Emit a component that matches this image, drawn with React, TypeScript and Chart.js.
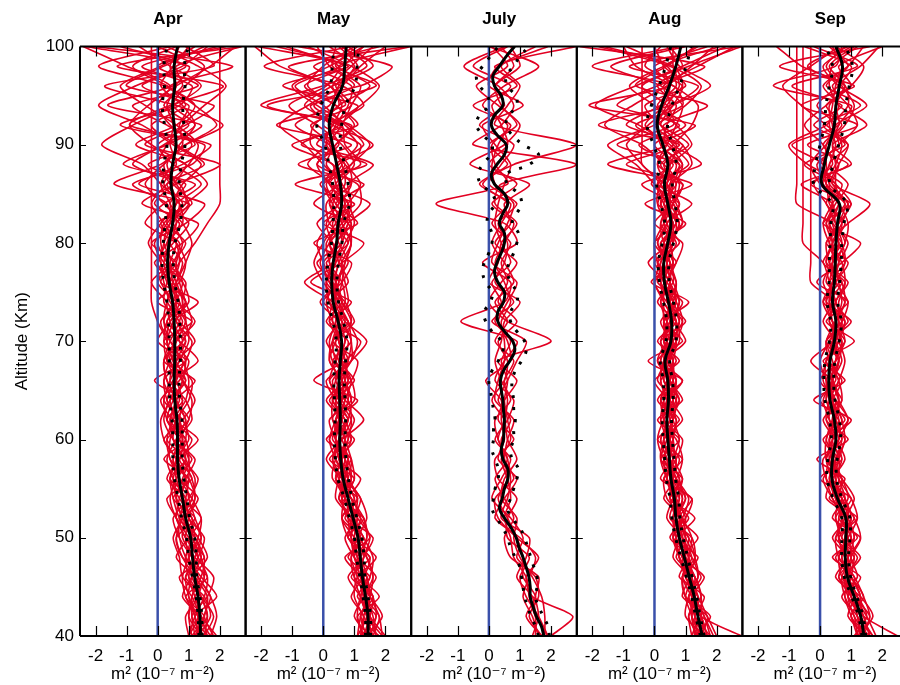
import React, { useEffect, useRef } from 'react';
import { Chart, registerables } from 'chart.js';

Chart.register(...registerables);

// ---------- axes / labels ----------
const MONTHS = ['Apr', 'May', 'July', 'Aug', 'Sep'];
const X_TICKS = [-2, -1, 0, 1, 2];
const Y_TICKS = [40, 50, 60, 70, 80, 90, 100];
const X_MIN = -2.5;
const X_MAX = 2.83;
const Y_TITLE = 'Altitude (Km)';
const X_TITLE = 'm\u00B2 (10\u207B\u2077 m\u207B\u00B2)';

const ALT_2KM = [40, 42, 44, 46, 48, 50, 52, 54, 56, 58, 60, 62, 64, 66, 68, 70, 72, 74, 76, 78, 80, 82, 84, 86, 88, 90, 92, 94, 96, 98, 100];
const ALT_1KM = [40, 41, 42, 43, 44, 45, 46, 47, 48, 49, 50, 51, 52, 53, 54, 55, 56, 57, 58, 59, 60, 61, 62, 63, 64, 65, 66, 67, 68, 69, 70, 71, 72, 73, 74, 75, 76, 77, 78, 79, 80, 81, 82, 83, 84, 85, 86, 87, 88, 89, 90, 91, 92, 93, 94, 95, 96, 97, 98, 99, 100];

// ---------- April ----------
const APR_MEAN = [1.38, 1.36, 1.3, 1.19, 1.12, 1.06, 0.9, 0.8, 0.69, 0.64, 0.64, 0.62, 0.55, 0.53, 0.55, 0.55, 0.53, 0.48, 0.37, 0.32, 0.37, 0.48, 0.53, 0.43, 0.48, 0.59, 0.53, 0.48, 0.55, 0.53, 0.64];
const APR_LO = [1.33, 1.3, 1.24, 1.12, 1.0, 0.93, 0.77, 0.66, 0.54, 0.49, 0.49, 0.46, 0.39, 0.37, 0.37, 0.37, 0.35, 0.3, 0.19, 0.14, 0.18, 0.24, 0.28, 0.17, 0.2, 0.3, 0.22, 0.15, 0.22, 0.2, 0.3];
const APR_HI = [1.43, 1.42, 1.36, 1.26, 1.24, 1.19, 1.03, 0.94, 0.84, 0.79, 0.79, 0.78, 0.71, 0.69, 0.73, 0.73, 0.71, 0.66, 0.55, 0.5, 0.56, 0.72, 0.78, 0.69, 0.76, 0.88, 0.84, 0.81, 0.88, 0.86, 0.98];
const APR_RED = [
  [1.6, 1.2, 1.9, 1.4, 1.0, 1.3, 0.7, 1.1, 0.4, 0.9, 0.3, 1.0, 0.6, 1.2, 0.2, 0.8, 0.5, 1.3, 0.1, 0.6, -0.2, 0.9, 1.5, -0.6, 0.8, 1.7, -0.9, 0.4, 2.1, -1.3, 2.7],
  [1.1, 1.5, 0.9, 1.6, 0.8, 0.6, 1.2, 0.5, 1.0, 0.2, 0.9, 0.3, 0.8, -0.1, 0.9, 0.2, 1.1, 0.0, 0.7, 0.9, 0.6, -0.4, 0.2, 1.2, -1.1, 0.3, 1.4, -1.6, 0.5, 1.0, -2.3],
  [1.9, 1.4, 1.1, 0.7, 1.5, 0.9, 0.6, 0.3, 1.1, 0.7, 1.3, 0.5, 0.1, 0.7, 1.0, 0.4, 0.1, 0.6, 0.5, -0.1, 0.8, 1.3, -0.5, 0.6, 2.0, -0.4, 0.9, 1.8, -1.0, 0.2, 1.5],
  [1.3, 1.7, 1.5, 0.9, 1.3, 1.5, 1.0, 0.9, 0.5, 0.3, 0.6, 1.1, 0.9, 0.4, 0.6, 1.2, 0.7, 0.3, -0.2, 0.4, 0.3, 0.6, 1.0, -1.4, 0.1, 0.9, 2.1, 0.6, -1.7, 1.8, 0.9],
  [1.0, 0.9, 1.3, 1.2, 0.6, 1.0, 1.4, 0.8, 0.9, 1.2, 0.5, 0.2, 0.4, 0.9, 0.3, 0.6, 0.9, 0.8, 0.9, 0.3, 0.1, 0.2, 0.8, 0.3, 1.5, 0.6, -0.2, 0.9, 0.4, 2.4, -2.0],
  [1.5, 1.1, 1.6, 1.8, 1.2, 0.8, 0.9, 1.3, 0.7, 0.5, 0.8, 0.7, 0.3, 0.6, 0.8, 0.0, 0.4, 0.7, 0.4, 0.0, 0.5, 1.0, 0.4, 0.9, -0.3, 1.2, 0.3, -0.8, 1.3, 0.0, 1.9],
  [1.7, 1.3, 1.0, 1.1, 1.4, 1.2, 0.8, 0.6, 0.8, 1.0, 0.9, 0.4, 0.7, 0.5, 1.3, 0.7, 0.2, 0.5, 0.6, 0.8, 0.4, 0.7, -0.1, 0.5, 0.9, -0.7, 0.6, 1.2, 0.2, -1.9, 0.4],
  [1.2, 1.6, 1.4, 1.0, 0.9, 1.1, 1.1, 0.7, 0.4, 0.6, 0.2, 0.8, 1.2, 0.8, 0.4, 0.9, 0.6, 0.2, 0.3, 0.5, 0.9, 0.3, 0.6, 1.4, 0.5, 0.0, 1.0, 0.2, 0.8, 0.6, 2.7],
  [1.4, 1.0, 1.2, 1.5, 1.1, 0.7, 0.5, 1.0, 1.3, 0.8, 0.6, 0.9, 0.5, 0.2, 0.7, 0.5, 0.8, 0.4, 0.2, 0.1, 0.2, 0.5, 0.7, 0.2, 0.6, 0.4, 0.5, 0.3, 0.6, 0.4, 0.7],
  [1.3, 1.2, 1.0, 0.9, 1.3, 1.0, 0.6, 0.4, 0.6, 0.9, 0.7, 0.3, 0.5, 0.8, 0.4, 0.3, 0.0, -0.2, -0.2, -0.2, -0.2, -0.2, -0.2, -0.2, -0.2, -0.2, -0.2, -0.2, -0.2, -0.2, -0.2],
  [1.8, 1.5, 1.7, 1.3, 1.0, 1.4, 1.2, 1.0, 0.9, 0.6, 1.0, 0.8, 0.2, 0.5, 0.9, 1.1, 0.6, 0.9, 0.4, 0.7, 1.2, 1.6, 2.0, 2.0, 2.0, 2.0, 2.0, 2.0, 2.0, 2.0, 2.0],
  [1.0, 1.3, 0.8, 1.1, 1.6, 1.3, 0.9, 1.2, 1.0, 0.4, 0.4, 0.6, 1.0, 1.1, 0.5, 0.3, 0.4, 1.0, 0.8, 0.2, -0.1, 0.4, 0.3, -0.8, 1.1, 1.5, -1.2, 0.7, 1.1, -0.5, 2.2],
  [1.5, 1.8, 1.4, 0.8, 0.7, 0.5, 0.8, 0.9, 0.3, 0.7, 1.1, 0.5, 0.6, 0.3, 0.2, 0.6, 1.2, 0.6, 0.0, 0.5, 0.7, 0.0, 1.1, 0.5, 0.2, 0.8, 0.7, 1.0, -0.5, 0.9, -1.2],
  [1.2, 1.1, 1.1, 1.3, 0.9, 1.2, 1.0, 0.6, 0.6, 1.1, 0.5, 0.6, 0.4, 0.9, 0.6, 0.9, 0.3, 0.9, 0.5, 0.4, 0.6, 0.1, 0.9, 0.7, -0.8, 0.2, 1.2, 0.5, 0.9, 1.5, 0.3],
  [1.5, 1.6, 1.4, 1.1, 1.0, 0.9, 1.0, 1.2, 1.1, 0.8, 0.5, 0.4, 0.6, 0.8, 0.9, 0.7, 0.4, 0.3, 0.5, 0.7, 0.6, 0.2, -0.2, 0.3, 1.0, 1.3, 0.6, -0.4, -1.2, 0.1, 1.2],
  [1.1, 1.0, 1.1, 1.4, 1.5, 1.2, 0.8, 0.6, 0.5, 0.7, 0.9, 0.9, 0.6, 0.3, 0.2, 0.4, 0.7, 0.8, 0.6, 0.3, 0.0, 0.3, 0.9, 1.6, 0.9, -0.2, -0.9, -0.3, 0.6, 1.7, 2.5],
  [1.7, 1.9, 1.7, 1.3, 0.9, 0.7, 0.7, 0.9, 1.0, 1.0, 0.7, 0.3, 0.2, 0.4, 0.7, 1.0, 0.9, 0.5, 0.1, 0.0, 0.3, 0.8, 0.7, 0.1, -0.5, -1.8, -0.8, 0.5, 1.4, 0.4, -0.6],
  [1.3, 1.2, 0.9, 0.8, 1.0, 1.3, 1.4, 1.1, 0.7, 0.4, 0.3, 0.5, 0.9, 1.0, 0.8, 0.4, 0.2, 0.3, 0.6, 0.9, 1.1, 0.8, 0.2, -0.4, 0.2, 0.9, 1.9, 1.2, 0.3, -0.8, 0.6],
  [1.0, 1.2, 1.5, 1.6, 1.3, 0.9, 0.6, 0.7, 0.9, 0.6, 0.2, 0.1, 0.4, 0.6, 0.5, 0.3, 0.5, 0.6, 0.4, 0.2, 0.4, 0.6, 0.5, 0.8, 1.4, 0.5, -0.5, -1.9, -0.7, 0.8, 1.6],
  [1.6, 1.4, 1.2, 1.0, 1.2, 1.4, 1.1, 0.8, 0.6, 0.5, 0.7, 1.0, 1.1, 0.8, 0.5, 0.6, 0.9, 0.7, 0.3, 0.1, -0.3, 0.1, 0.6, 0.4, 0.0, 0.3, 0.8, 1.5, 2.2, 1.3, 0.0],
  [1.2, 1.5, 1.6, 1.2, 0.8, 0.6, 0.8, 1.1, 1.2, 0.9, 0.8, 0.6, 0.3, 0.2, 0.4, 0.8, 1.1, 0.9, 0.7, 0.6, 0.8, 0.5, 0.4, 0.1, 0.5, 1.1, 0.4, 0.0, 0.4, -1.0, -2.4],
  [1.4, 1.3, 1.3, 1.5, 1.4, 1.1, 0.7, 0.5, 0.4, 0.6, 0.8, 0.7, 0.8, 0.6, 0.3, 0.2, 0.3, 0.6, 0.8, 0.5, 0.2, 0.4, 1.0, 0.6, 0.3, 0.7, 1.2, 0.8, 0.1, 0.5, 1.0],
];

// ---------- May ----------
const MAY_MEAN = [1.44, 1.44, 1.36, 1.26, 1.19, 1.12, 0.96, 0.8, 0.64, 0.56, 0.53, 0.55, 0.53, 0.51, 0.55, 0.59, 0.48, 0.32, 0.27, 0.32, 0.43, 0.48, 0.59, 0.55, 0.43, 0.3, 0.19, 0.32, 0.62, 0.69, 0.74];
const MAY_LO = [1.36, 1.36, 1.28, 1.18, 1.07, 1.0, 0.84, 0.68, 0.47, 0.39, 0.36, 0.38, 0.36, 0.34, 0.38, 0.42, 0.31, 0.15, 0.1, 0.15, 0.26, 0.31, 0.34, 0.3, 0.18, 0.05, -0.21, -0.08, 0.22, 0.29, 0.34];
const MAY_HI = [1.52, 1.52, 1.44, 1.34, 1.31, 1.24, 1.08, 0.92, 0.81, 0.73, 0.7, 0.72, 0.7, 0.68, 0.72, 0.76, 0.65, 0.49, 0.44, 0.49, 0.6, 0.65, 0.84, 0.8, 0.68, 0.55, 0.59, 0.72, 1.02, 1.09, 1.14];
const MAY_RED = [
  [1.8, 1.2, 1.6, 0.9, 1.5, 0.8, 1.3, 0.5, 1.0, 0.2, 0.9, 0.4, 1.1, -0.3, 0.7, 1.2, 0.2, 0.9, -0.4, 0.6, 1.3, 0.0, 1.0, -0.9, 1.4, -0.7, 0.6, -1.8, 1.2, 2.2, -0.8],
  [1.2, 1.7, 1.1, 1.5, 0.8, 1.3, 0.7, 1.1, 0.4, 0.9, 0.1, 0.8, 0.3, 0.9, 1.1, 0.3, 0.8, 0.0, 0.6, 0.9, -0.3, 1.1, 0.4, 1.3, -0.8, 0.9, -1.5, 0.7, 0.2, -1.1, 2.7],
  [2.0, 1.5, 1.3, 1.7, 1.1, 0.9, 1.0, 1.2, 0.7, 0.6, 0.7, 1.0, 0.6, 0.5, 0.3, 0.9, 0.6, 0.5, 0.2, 0.0, 0.6, 0.8, 1.5, 0.2, 0.5, 1.6, 0.3, -0.4, 1.7, 0.4, 1.1],
  [1.3, 1.1, 1.8, 1.2, 1.3, 1.6, 0.8, 0.6, 0.9, 0.8, 0.4, 0.2, 0.9, 0.7, 0.6, 0.4, 1.0, 0.6, 0.3, 0.5, 0.2, 0.5, 0.9, 0.8, 1.6, -0.2, 0.5, 1.1, -1.3, 0.8, -2.1],
  [1.6, 1.3, 1.0, 1.1, 1.7, 1.0, 1.2, 0.9, 0.3, 0.4, 0.8, 0.6, 0.4, 1.0, 0.5, 0.7, 0.5, -0.1, 0.5, 0.1, 0.8, 0.2, 0.1, 0.6, 0.1, 0.4, 0.9, -2.0, 0.0, 1.4, 0.6],
  [1.4, 1.9, 1.5, 1.0, 0.9, 1.2, 0.6, 1.0, 0.6, 0.1, 0.6, 1.3, 0.7, 0.2, 0.8, 0.5, 0.4, 0.8, 0.7, 0.6, 0.9, 0.6, 0.7, 0.3, -0.5, 0.1, 0.4, 0.8, 0.9, -0.3, 1.8],
  [1.1, 1.4, 1.2, 1.4, 1.0, 0.7, 1.1, 0.7, 0.8, 0.9, 0.3, 0.5, 0.5, 0.3, 0.9, 1.4, 0.7, 0.3, -0.6, 0.3, 0.4, 0.9, 0.2, 0.9, 0.8, 0.2, -0.9, 0.2, 0.5, 1.0, 0.2],
  [1.7, 1.6, 1.4, 1.3, 1.2, 1.1, 0.9, 0.4, 0.5, 0.7, 0.5, 0.7, 0.2, 0.8, 0.4, 0.6, 0.3, 0.4, 0.4, 0.8, 0.5, 0.3, 0.6, -0.1, 0.9, 1.2, 0.0, 0.5, 1.5, 0.5, 2.8],
  [1.5, 1.0, 1.3, 1.6, 1.4, 0.9, 0.8, 0.8, 1.2, 0.5, 1.0, 0.3, 0.6, 0.6, 0.2, 0.3, 0.9, 0.7, 0.1, 0.4, 0.7, 1.0, 0.8, 0.4, 0.3, -1.0, 1.1, 0.4, -0.6, 0.7, -1.5],
  [1.3, 1.5, 1.6, 1.1, 1.1, 1.4, 1.3, 0.6, 0.6, 0.3, 0.6, 0.9, 0.8, 0.4, 0.6, 0.8, 0.1, 0.6, 0.4, 0.2, 0.1, 0.6, 1.2, 1.1, -0.2, 0.5, 0.2, 1.3, 0.6, -1.9, 0.9],
  [1.9, 1.4, 1.2, 0.8, 1.3, 1.0, 0.6, 1.1, 0.8, 0.7, 0.2, 0.6, 0.1, 0.7, 0.7, 0.5, 0.6, 0.2, 0.8, 0.5, 0.3, -0.2, 0.5, 0.0, 1.2, 0.7, 0.6, -0.3, 1.0, 0.2, -0.2],
  [1.4, 1.2, 1.5, 1.4, 1.0, 1.2, 1.0, 0.9, 0.4, 0.6, 0.7, 0.4, 1.0, 0.9, 0.3, 0.2, 0.4, 0.4, 0.3, -0.2, 0.6, 0.4, 0.3, 0.7, 0.6, 0.3, -0.4, 0.9, 0.4, 1.1, 0.5],
  [1.2, 1.3, 0.9, 1.3, 1.5, 0.8, 0.9, 0.5, 0.7, 0.4, 0.5, 0.8, 0.4, 0.1, 0.9, 0.9, 0.8, 0.5, 0.6, 0.7, 0.9, 0.8, -0.3, 0.5, 0.4, 1.3, 0.7, 0.0, -0.9, 0.6, 1.3],
  [1.6, 1.8, 1.3, 1.2, 0.7, 1.5, 1.1, 0.7, 0.5, 0.8, 0.4, 0.5, 0.7, 0.6, 0.5, 0.1, 0.5, 0.2, 0.1, 0.4, 0.2, 0.7, 0.8, 0.2, 0.7, 0.0, 0.3, 0.6, 0.3, 0.9, 1.6],
  [1.5, 1.7, 1.6, 1.3, 1.1, 1.0, 1.1, 1.0, 0.7, 0.5, 0.4, 0.6, 0.8, 0.7, 0.4, 0.3, 0.5, 0.6, 0.2, -0.1, 0.2, 0.7, 0.9, 0.6, 0.0, -0.6, -1.4, -0.5, 0.6, 1.2, 2.0],
  [1.2, 1.3, 1.5, 1.6, 1.4, 1.2, 0.8, 0.6, 0.7, 0.8, 0.6, 0.3, 0.3, 0.6, 0.8, 0.9, 0.6, 0.2, 0.1, 0.3, 0.6, 0.5, 0.2, 0.4, 0.9, 1.5, 0.8, -0.2, -1.0, 0.2, 1.3],
  [1.7, 1.5, 1.2, 1.0, 1.2, 1.4, 1.3, 0.9, 0.5, 0.3, 0.5, 0.8, 0.9, 0.6, 0.2, 0.4, 0.7, 0.5, 0.0, -0.3, 0.0, 0.4, 0.8, 1.2, 0.7, 0.1, 0.3, 1.2, 1.8, 0.9, -0.5],
  [1.3, 1.1, 1.2, 1.5, 1.6, 1.3, 1.0, 0.8, 0.9, 0.7, 0.4, 0.4, 0.6, 0.8, 0.7, 0.5, 0.2, 0.3, 0.5, 0.6, 0.3, 0.1, 0.5, 0.9, 0.3, -0.4, -0.3, 0.5, 0.2, -1.4, -2.2],
  [1.9, 1.8, 1.5, 1.2, 1.0, 0.9, 1.0, 1.1, 0.8, 0.4, 0.2, 0.4, 0.7, 0.9, 0.6, 0.7, 0.9, 0.6, 0.4, 0.5, 0.8, 0.9, 0.6, 0.2, -0.2, 0.4, 1.0, 0.4, -0.5, 0.0, 1.0],
  [1.4, 1.5, 1.3, 1.1, 0.9, 1.1, 1.4, 1.2, 0.8, 0.6, 0.8, 0.9, 0.5, 0.2, 0.4, 0.6, 0.3, 0.1, 0.4, 0.7, 0.9, 0.6, 0.3, 0.0, 0.5, 1.1, 0.5, -0.6, 0.3, 1.6, 0.8],
  [1.6, 1.4, 1.5, 1.4, 1.2, 0.8, 0.6, 0.7, 1.0, 0.9, 0.7, 0.5, 0.4, 0.5, 0.9, 1.1, 0.8, 0.4, 0.3, 0.0, -0.2, 0.2, 0.7, 0.5, 1.0, 0.6, -0.2, -1.1, 0.1, 0.5, -1.2],
  [1.1, 1.2, 1.4, 1.2, 1.3, 1.5, 1.2, 0.7, 0.4, 0.6, 0.9, 0.7, 0.3, 0.4, 0.7, 0.5, 0.4, 0.7, 0.6, 0.2, 0.4, 0.8, 0.4, 0.1, 0.6, 0.2, 0.6, 0.9, 1.2, 0.3, 0.4],
];

// ---------- July ----------
const JUL_MEAN = [1.77, 1.69, 1.53, 1.42, 1.33, 1.33, 1.29, 1.2, 1.1, 0.97, 0.88, 0.72, 0.5, 0.34, 0.43, 0.5, 0.61, 0.61, 0.45, 0.4, 0.47, 0.48, 0.5, 0.47, 0.45, 0.4, 0.37, 0.47, 0.67, 0.83, 0.77, 0.5, 0.29, 0.29, 0.47, 0.5, 0.29, 0.18, 0.26, 0.4, 0.5, 0.5, 0.34, 0.45, 0.61, 0.5, 0.18, 0.08, 0.26, 0.5, 0.56, 0.26, 0.08, 0.18, 0.45, 0.4, 0.18, 0.13, 0.34, 0.56, 0.83];
const JUL_LO = [1.6, 1.5, 1.35, 1.25, 1.15, 1.1, 1.05, 1.0, 0.85, 0.7, 0.6, 0.45, 0.25, 0.1, 0.15, 0.2, 0.3, 0.3, 0.2, 0.1, 0.15, 0.15, 0.2, 0.15, 0.1, 0.05, 0.0, 0.1, 0.3, 0.45, 0.4, 0.1, -0.1, -0.15, 0.05, 0.1, -0.1, -0.2, -0.15, 0.0, 0.1, 0.1, -0.05, 0.0, 0.2, 0.1, -0.25, -0.35, -0.2, 0.05, 0.1, -0.2, -0.4, -0.3, 0.0, -0.05, -0.3, -0.4, -0.2, 0.05, 0.3];
const JUL_HI = [1.95, 1.9, 1.75, 1.6, 1.5, 1.55, 1.55, 1.45, 1.35, 1.25, 1.15, 1.0, 0.75, 0.6, 0.7, 0.8, 0.9, 0.95, 0.75, 0.7, 0.8, 0.8, 0.85, 0.8, 0.8, 0.75, 0.75, 0.85, 1.05, 1.2, 1.15, 0.9, 0.7, 0.7, 0.9, 0.9, 0.7, 0.6, 0.65, 0.8, 0.9, 0.95, 0.75, 0.9, 1.05, 0.95, 0.6, 0.55, 1.3, 1.6, 1.1, 0.75, 0.55, 0.65, 0.9, 0.85, 0.6, 0.55, 0.8, 1.0, 1.3];
const JUL_RED = [
  [2.0, 2.7, 1.4, 1.2, 1.6, 0.9, 0.3, 0.2, 0.8, 0.5, 0.4, 0.7, 0.3, 0.6, 0.9, 1.2, 0.1, 0.8, 0.2, 0.5, 0.6, 0.3, 0.9, 0.0, 0.4, 0.8, -0.3, 0.5, 0.2, 1.0, 0.7],
  [1.7, 1.3, 1.6, 1.5, 0.9, 1.1, 0.7, 0.1, 0.4, 0.7, 0.2, 0.6, 0.8, 0.2, 0.5, 0.9, -0.9, 0.5, 0.7, -0.2, 0.9, 0.5, -1.7, 0.6, 0.2, 0.1, 0.7, -0.5, 0.9, 0.2, 2.8],
  [1.9, 1.6, 1.2, 1.0, 1.3, 0.6, 0.6, 0.9, 0.3, 0.2, 0.8, 0.3, 0.5, 0.9, 0.3, 2.0, 0.6, 0.0, 0.4, 0.9, 0.2, 0.7, 0.5, 1.3, -0.6, 0.5, 1.0, 0.3, -0.4, 0.6, 0.1],
  [1.5, 1.5, 1.4, 0.9, 1.2, 1.3, 0.4, 0.6, 0.7, 0.6, 0.3, 0.2, 0.7, 0.4, 0.2, 0.4, 0.5, 1.0, 0.0, 0.3, 0.4, 0.9, 0.2, 0.4, 2.8, -0.5, 0.4, 0.8, 0.3, -0.8, 0.5],
  [1.8, 1.8, 1.7, 1.4, 1.0, 0.8, 0.9, 0.4, 0.5, 0.9, 0.6, 0.5, 0.1, 0.5, 0.6, 0.3, 0.9, 0.3, 0.6, 0.4, 0.7, 0.1, 0.6, -0.2, 0.8, 2.8, 0.2, 0.6, 1.0, 0.4, 1.5],
  [1.6, 1.4, 1.1, 1.3, 1.5, 1.0, 0.2, 0.5, 0.9, 0.3, 0.5, 0.4, 0.4, -0.1, 0.7, 0.6, 0.3, 0.6, 0.9, 0.1, 0.3, 0.6, 0.8, 0.2, 0.1, 0.3, 0.6, -0.2, 0.5, 1.6, 0.0],
  [1.9, 1.5, 1.3, 1.2, 0.8, 0.7, 0.5, 0.7, 0.6, 0.4, 0.7, 0.6, 0.5, 0.6, 0.4, 0.7, 0.2, 0.4, 0.1, 0.7, 0.4, 0.2, 0.3, 0.5, 0.7, 0.2, -0.2, 1.1, 0.0, 0.3, 1.9],
  [1.7, 1.2, 1.5, 1.1, 1.1, 0.9, 0.6, 0.3, 0.6, 0.5, 0.6, 0.8, 0.2, 0.3, 0.5, 0.5, 0.4, 0.7, 0.5, 0.2, 0.5, 0.8, 0.1, 0.9, 0.0, 0.6, 0.4, 0.1, 0.7, -0.5, 0.6],
  [1.4, 1.6, 1.5, 1.6, 0.7, 0.5, 0.8, 0.5, 0.2, 0.6, 0.3, 0.5, 0.6, 0.5, 0.8, 0.2, 0.6, 0.2, 0.8, 0.5, 0.1, 0.4, 0.7, -0.3, 0.6, 0.0, 0.9, 0.4, 0.2, 0.8, 0.4],
];

// ---------- August ----------
const AUG_MEAN = [1.54, 1.4, 1.28, 1.12, 0.96, 0.8, 0.69, 0.64, 0.53, 0.48, 0.43, 0.4, 0.45, 0.43, 0.34, 0.53, 0.55, 0.45, 0.32, 0.3, 0.43, 0.53, 0.43, 0.32, 0.43, 0.27, 0.09, 0.23, 0.48, 0.69, 0.85];
const AUG_LO = [1.48, 1.33, 1.2, 1.03, 0.85, 0.68, 0.56, 0.5, 0.38, 0.33, 0.28, 0.25, 0.3, 0.28, 0.19, 0.37, 0.39, 0.29, 0.16, 0.13, 0.25, 0.33, 0.2, 0.07, 0.16, -0.03, -0.24, -0.1, 0.15, 0.36, 0.52];
const AUG_HI = [1.6, 1.47, 1.36, 1.21, 1.07, 0.92, 0.82, 0.78, 0.68, 0.63, 0.58, 0.55, 0.6, 0.58, 0.49, 0.69, 0.71, 0.61, 0.48, 0.47, 0.61, 0.73, 0.66, 0.57, 0.7, 0.57, 0.42, 0.56, 0.81, 1.02, 1.18];
const AUG_RED = [
  [2.8, 1.5, 1.2, 1.6, 0.9, 1.4, 0.8, 1.2, 0.3, 0.9, 0.1, 0.8, 0.2, 0.9, -0.2, 0.9, 0.3, 1.1, -0.1, 0.7, 0.2, 1.0, -0.3, 1.2, -0.9, 0.8, -1.8, 0.5, 1.4, -0.8, 2.7],
  [1.3, 1.8, 1.0, 0.9, 1.4, 0.6, 1.1, 0.5, 0.9, 0.2, 0.8, 0.1, 0.9, 0.5, 0.6, 0.2, 1.0, 0.4, 0.5, 0.1, 0.8, 0.4, 1.2, 0.1, 0.6, -0.5, 0.8, -1.2, 0.1, 1.6, -2.4],
  [1.7, 1.2, 1.5, 1.3, 0.7, 1.0, 0.7, 0.9, 0.6, 0.8, 0.4, 0.6, 0.7, 0.1, 0.4, 0.8, 0.7, 0.1, 0.6, 0.5, 0.0, 0.7, 0.6, -0.4, 1.5, 0.6, 0.3, 1.7, -0.6, 0.4, 1.3],
  [1.4, 1.3, 1.6, 0.8, 1.1, 0.9, 0.4, 0.6, 0.8, 0.5, 0.3, 0.9, 0.5, 0.2, 0.7, 0.3, 0.5, 0.9, 0.1, 0.3, 0.6, 0.2, 0.5, 0.9, -1.5, 0.4, -0.6, 0.9, 0.6, -2.0, 0.8],
  [1.6, 1.0, 1.1, 1.4, 1.2, 0.5, 1.0, 1.2, 0.2, 0.6, 0.6, 0.3, 0.4, 0.9, 0.2, 0.5, 0.2, 0.7, 0.4, -0.2, 0.5, 0.6, 0.2, 0.7, 0.2, 1.1, 0.2, -0.3, 1.0, 0.3, 0.0],
  [1.9, 1.6, 1.3, 1.0, 0.8, 0.7, 0.9, 0.3, 0.7, 0.9, 0.7, 0.2, 0.8, 0.3, 0.5, 0.7, 0.9, 0.4, 0.0, 0.6, 0.3, 0.9, 0.7, 0.4, 0.8, -1.2, 0.6, 0.4, -0.4, 1.1, 2.8],
  [1.2, 1.4, 1.3, 1.2, 1.0, 1.1, 0.6, 0.8, 0.4, 0.3, 0.5, 0.7, 0.1, 0.6, 0.5, 0.6, 0.4, 0.5, 0.7, 0.4, 0.7, 0.3, 0.4, 0.6, 0.3, 0.9, -0.9, 0.2, 0.9, 0.6, -1.6],
  [1.5, 1.7, 0.9, 1.1, 0.6, 0.8, 0.8, 0.6, 0.5, 0.4, 0.2, 0.5, 0.3, 0.7, 0.1, 0.4, 0.8, 0.6, 0.2, 0.2, 0.4, 0.8, 0.1, 0.2, 0.9, 0.2, 1.3, -2.1, 0.5, 0.0, 1.7],
  [1.8, 1.3, 1.4, 0.9, 1.3, 1.2, 0.5, 0.7, 0.9, 0.6, 0.4, 0.4, 0.6, 0.4, 0.3, 1.0, 0.6, 0.2, 0.5, 0.0, 0.6, 0.5, 0.8, -0.1, 0.5, 0.7, 0.0, 0.6, 1.8, 0.8, 0.4],
  [1.3, 1.2, 1.2, 1.3, 0.9, 0.6, 0.7, 1.0, 0.6, 0.2, 0.3, 0.6, 0.2, 0.5, 0.6, 0.4, 0.3, 0.6, 0.3, 0.5, 0.1, 0.4, 0.2, 0.3, -0.4, -0.4, -0.4, -0.4, -0.4, -0.4, -0.4],
  [1.7, 1.5, 1.1, 1.5, 1.0, 1.0, 0.9, 0.4, 0.3, 0.7, 0.9, 0.3, 0.4, 0.0, 0.8, 0.1, 0.7, 0.3, 0.4, 0.7, 0.9, 0.0, 0.6, 0.9, 0.1, 0.4, 0.7, 0.9, 0.2, -1.4, 1.0],
  [1.4, 1.1, 1.4, 1.1, 0.8, 0.7, 1.3, 0.5, 0.6, 0.5, 0.5, 0.6, 0.7, 0.3, 0.4, 0.6, 0.3, 0.3, 0.2, 0.3, 0.2, 0.7, 0.3, 0.1, 1.1, 0.5, -0.3, 0.3, 0.5, 0.3, 2.1],
  [1.6, 1.5, 1.2, 0.9, 1.2, 0.9, 0.6, 1.0, 0.7, 0.3, 0.6, 0.5, 0.5, 0.6, 0.6, 0.3, 0.6, 0.8, 0.5, 0.6, 0.5, 0.3, 0.5, 0.5, 0.7, 0.0, 1.0, 0.1, 0.7, 0.4, -0.9],
  [1.3, 1.2, 1.0, 1.2, 1.1, 0.8, 0.7, 0.7, 0.4, 0.6, 0.4, 0.2, 0.3, 0.5, 0.1, 0.7, 0.5, 0.6, 0.3, 0.4, 0.3, 0.6, 0.2, 0.4, 0.5, 0.3, 0.4, 0.7, 0.1, 0.9, 0.5],
  [1.8, 1.6, 1.3, 1.2, 1.1, 0.9, 0.8, 0.9, 0.8, 0.5, 0.3, 0.4, 0.6, 0.7, 0.5, 0.3, 0.4, 0.7, 0.5, 0.1, 0.0, 0.3, 0.6, 0.8, 0.3, -0.4, -1.6, -0.7, 0.4, 1.2, 1.9],
  [1.4, 1.5, 1.5, 1.3, 1.0, 0.7, 0.6, 0.8, 0.7, 0.5, 0.6, 0.7, 0.4, 0.2, 0.3, 0.6, 0.8, 0.5, 0.2, 0.3, 0.6, 0.7, 0.4, 0.1, 0.5, 1.2, 0.7, 0.0, -0.8, 0.3, 1.4],
  [2.0, 1.7, 1.4, 1.0, 0.8, 0.6, 0.9, 1.1, 0.7, 0.3, 0.1, 0.3, 0.7, 0.6, 0.3, 0.5, 0.9, 0.7, 0.3, 0.1, 0.4, 0.9, 0.6, 0.0, -0.6, -1.5, 0.0, 1.0, 1.5, 0.5, -1.8],
  [1.3, 1.4, 1.2, 1.1, 1.3, 1.1, 0.7, 0.5, 0.6, 0.7, 0.5, 0.3, 0.2, 0.4, 0.6, 0.7, 0.4, 0.2, 0.4, 0.6, 0.3, 0.2, 0.6, 0.7, 0.9, 0.4, -0.5, -1.9, -0.6, 0.9, 2.3],
  [1.6, 1.3, 1.1, 1.4, 1.3, 1.0, 0.8, 0.6, 0.4, 0.6, 0.8, 0.6, 0.5, 0.7, 0.4, 0.2, 0.5, 0.8, 0.6, 0.3, 0.6, 0.4, 0.1, 0.5, 1.2, 0.9, 0.2, 0.6, 0.9, -0.3, 0.2],
  [1.2, 1.1, 1.3, 1.0, 0.9, 0.9, 1.0, 0.7, 0.4, 0.2, 0.4, 0.6, 0.6, 0.3, 0.2, 0.4, 0.6, 0.3, 0.0, 0.2, 0.5, 0.8, 0.5, 0.2, -0.4, -0.9, -0.2, 0.5, 0.3, 1.4, 2.6],
  [1.7, 1.5, 1.0, 0.9, 1.1, 1.2, 0.9, 0.6, 0.5, 0.4, 0.2, 0.5, 0.8, 0.5, 0.4, 0.7, 0.7, 0.5, 0.5, 0.4, 0.1, 0.4, 0.8, 0.4, 0.1, 0.6, 1.2, 1.4, 0.6, -0.6, -1.0],
  [1.5, 1.2, 1.3, 1.2, 0.8, 0.7, 0.6, 0.7, 0.6, 0.7, 0.5, 0.4, 0.4, 0.5, 0.3, 0.4, 0.3, 0.6, 0.7, 0.5, 0.4, 0.6, 0.3, 0.6, 0.8, 0.2, 0.1, 0.4, 0.8, 0.6, 0.6],
];

// ---------- September ----------
const SEP_MEAN = [1.41, 1.31, 1.1, 0.88, 0.81, 0.83, 0.83, 0.56, 0.38, 0.4, 0.51, 0.46, 0.32, 0.28, 0.32, 0.46, 0.51, 0.4, 0.46, 0.49, 0.51, 0.56, 0.62, 0.06, 0.14, 0.3, 0.46, 0.51, 0.62, 0.72, 0.51];
const SEP_LO = [1.35, 1.24, 1.02, 0.78, 0.7, 0.7, 0.7, 0.42, 0.23, 0.25, 0.36, 0.3, 0.16, 0.12, 0.16, 0.3, 0.34, 0.23, 0.29, 0.3, 0.32, 0.35, 0.38, -0.2, -0.14, 0.0, 0.14, 0.19, 0.3, 0.4, 0.19];
const SEP_HI = [1.47, 1.38, 1.18, 0.98, 0.92, 0.96, 0.96, 0.7, 0.53, 0.55, 0.66, 0.62, 0.48, 0.44, 0.48, 0.62, 0.68, 0.57, 0.63, 0.68, 0.7, 0.77, 0.86, 0.32, 0.42, 0.6, 0.78, 0.83, 0.94, 1.04, 0.83];
const SEP_RED = [
  [2.5, 1.4, 0.9, 1.3, 0.4, 1.2, 0.6, 1.0, 0.0, 0.7, 0.3, 1.0, -0.2, 0.8, 0.1, 1.1, 0.2, 0.9, -0.1, 0.7, 1.3, 0.1, 1.0, -0.3, 0.9, -0.4, 1.2, -0.6, 1.1, -1.3, 1.6],
  [1.2, 1.7, 1.3, 0.6, 1.1, 0.5, 1.2, 0.3, 0.8, -0.1, 0.9, 0.2, 0.7, 0.3, 0.6, 0.2, 0.9, 0.5, 0.9, 0.2, 0.4, 0.8, 0.2, 0.5, -0.5, 0.8, 0.1, 1.3, 0.2, 0.9, 0.3],
  [1.6, 1.0, 1.4, 1.0, 0.7, 0.9, 0.7, 0.6, 0.5, 0.3, 0.6, 0.4, 0.5, 0.0, 0.5, 0.7, 0.4, 0.1, 0.6, 0.3, 0.7, 0.4, -0.75, -0.75, -0.75, -0.75, -0.75, -0.75, -0.75, -0.75, -0.75],
  [1.3, 1.2, 0.7, 1.2, 1.0, 1.3, 0.4, 0.8, 0.6, 0.6, 0.1, 0.8, 0.3, 0.6, 0.2, 0.6, 0.7, 0.3, 0.5, 0.9, 0.2, 0.9, 1.6, 0.4, 0.6, 0.1, 0.7, 0.2, 1.0, 0.6, 2.0],
  [1.5, 0.9, 1.1, 0.8, 1.3, 0.7, 1.0, 0.2, 0.4, 0.8, 0.5, 0.1, 0.6, 0.4, -0.3, 0.4, 0.5, 0.8, 0.2, 0.4, 0.6, 0.2, 0.5, 0.9, 0.3, 0.9, -0.2, 0.7, -0.9, 1.2, -0.2],
  [1.1, 1.5, 1.2, 0.5, 0.9, 0.8, 0.9, 0.7, 0.2, 0.1, 0.7, 0.5, 0.2, 0.4, 0.6, 0.3, 1.0, 0.2, 0.4, 0.6, 0.9, 0.5, 0.4, -0.6, 1.0, 0.4, 1.5, 0.6, 0.3, 0.4, 1.2],
  [1.4, 1.3, 1.0, 1.1, 0.6, 1.0, 0.8, 0.5, 0.6, 0.4, 0.4, 0.7, 0.3, 0.2, 0.5, 0.5, 0.1, 0.4, -0.3, -0.3, -0.3, -0.3, -0.3, -0.3, -0.3, -0.3, -0.3, -0.3, -0.3, -0.3, -0.3],
  [1.7, 1.2, 1.2, 0.9, 0.8, 0.6, 1.1, 0.6, 0.3, 0.5, 0.8, 0.3, 0.4, 0.7, 0.3, 0.6, 0.6, 0.6, 0.8, 0.1, 0.5, 0.7, 0.3, 0.2, -0.1, 0.6, 0.4, 0.9, 0.8, -0.4, 0.9],
  [1.2, 1.1, 0.8, 0.7, 1.0, 0.9, 0.5, 0.9, 0.7, 0.2, 0.6, 0.6, 0.0, 0.5, 0.4, 0.2, 0.5, 0.7, 0.6, 0.5, 0.3, 0.6, 0.8, 0.1, 0.3, 0.5, 0.3, 0.4, 0.5, 0.7, 0.4],
  [1.4, 1.0, 1.3, 1.0, 0.5, 1.1, 0.8, 0.4, 0.1, 0.6, 0.4, 0.9, 0.5, 0.2, 0.2, 0.8, 0.3, 0.5, 0.3, 0.8, 0.7, 0.3, 0.9, 0.3, 0.2, 0.2, 0.5, -0.1, 0.6, 1.0, -0.5],
  [1.6, 1.4, 0.9, 0.8, 1.2, 0.6, 0.7, 0.5, 0.5, 0.3, 0.3, 0.4, 0.4, 0.3, 0.3, 0.4, 0.8, 0.1, 0.4, 0.4, 0.4, 0.2, 0.6, 0.2, 0.1, -0.9, 0.6, 0.5, 0.8, 0.3, 1.1],
  [1.3, 1.6, 1.1, 0.9, 0.9, 0.4, 0.9, 0.8, 0.4, 0.5, 0.2, 0.5, 0.4, 0.4, 0.7, 0.5, 0.4, 0.3, 0.7, 0.3, 0.6, 0.4, 0.6, 0.5, 0.5, 0.4, 0.6, 1.0, -1.5, 0.5, 0.7],
  [1.6, 1.4, 1.2, 0.9, 0.7, 0.8, 1.0, 0.8, 0.4, 0.2, 0.4, 0.6, 0.4, 0.1, 0.2, 0.6, 0.8, 0.5, 0.3, 0.5, 0.8, 0.9, 0.6, 0.0, -0.3, 0.2, 0.8, 1.1, 0.7, 0.2, 0.8],
  [1.3, 1.2, 1.0, 0.8, 0.9, 1.1, 0.9, 0.5, 0.3, 0.5, 0.7, 0.5, 0.2, 0.3, 0.6, 0.7, 0.4, 0.2, 0.5, 0.8, 0.6, 0.3, 0.4, 0.3, 0.6, 0.9, 0.2, -0.6, -1.2, -0.3, 0.6],
  [1.8, 1.5, 1.1, 0.7, 0.6, 0.9, 1.2, 1.0, 0.6, 0.4, 0.5, 0.3, 0.1, 0.4, 0.6, 0.4, 0.5, 0.8, 0.7, 0.3, 0.2, 0.6, 1.0, 0.5, 0.0, 0.6, 1.2, 0.9, 0.4, 1.3, 1.9],
  [1.2, 1.3, 1.3, 1.0, 0.8, 0.6, 0.6, 0.7, 0.5, 0.6, 0.8, 0.7, 0.5, 0.2, 0.0, 0.3, 0.6, 0.4, 0.1, 0.4, 0.8, 0.5, 0.2, -0.2, 0.4, 0.1, -0.5, 0.2, 1.0, 1.4, 0.5],
  [1.5, 1.1, 0.9, 1.0, 1.1, 1.0, 0.7, 0.4, 0.2, 0.3, 0.6, 0.9, 0.6, 0.4, 0.5, 0.8, 0.6, 0.3, 0.4, 0.6, 0.4, 0.7, 0.9, 0.2, 0.5, 0.7, 0.4, 0.3, 0.8, -0.6, -1.4],
  [1.4, 1.6, 1.4, 1.1, 0.6, 0.5, 0.8, 1.1, 0.7, 0.2, 0.2, 0.4, 0.7, 0.6, 0.3, 0.2, 0.7, 0.9, 0.5, 0.2, 0.4, 0.3, 0.8, 0.4, 0.1, 0.3, 0.5, 1.5, 0.6, 0.1, 1.0],
  [1.2, 1.0, 0.8, 0.9, 1.0, 0.7, 0.5, 0.6, 0.7, 0.4, 0.3, 0.5, 0.6, 0.4, 0.3, 0.5, 0.7, 0.5, 0.3, 0.1, -0.55, -0.55, -0.55, -0.55, -0.55, -0.55, -0.55, -0.55, -0.55, -0.55, -0.55],
  [1.7, 1.3, 1.0, 0.6, 0.9, 1.3, 1.1, 0.7, 0.5, 0.7, 0.5, 0.2, 0.3, 0.6, 0.8, 0.6, 0.3, 0.5, 0.8, 0.7, 0.3, 0.1, 0.4, 0.7, -0.4, -1.0, 0.2, 0.6, 0.1, 0.9, 1.4],
];

// ---------- styling ----------
const FONT = "'Liberation Sans', Arial, Helvetica, 'DejaVu Sans', sans-serif";
const RED = 'rgb(226, 0, 34)';
const BLUE = 'rgb(58, 80, 170)';
const BLACK = '#000';
const PANEL_W = 165.6;
const SPACER = 5.2;

const PANELS = [
  { title: MONTHS[0], mAlt: ALT_2KM, mean: APR_MEAN, lo: APR_LO, hi: APR_HI, reds: APR_RED },
  { title: MONTHS[1], mAlt: ALT_2KM, mean: MAY_MEAN, lo: MAY_LO, hi: MAY_HI, reds: MAY_RED },
  { title: MONTHS[2], mAlt: ALT_1KM, mean: JUL_MEAN, lo: JUL_LO, hi: JUL_HI, reds: JUL_RED },
  { title: MONTHS[3], mAlt: ALT_2KM, mean: AUG_MEAN, lo: AUG_LO, hi: AUG_HI, reds: AUG_RED },
  { title: MONTHS[4], mAlt: ALT_2KM, mean: SEP_MEAN, lo: SEP_LO, hi: SEP_HI, reds: SEP_RED },
];

const toPts = (xs: number[], alts: number[]) => xs.map((x, k) => ({ x, y: alts[k] }));

const framePlugin = {
  id: 'panelFrames',
  afterDatasetsDraw(chart: any) {
    const { ctx, chartArea } = chart;
    const ys = chart.scales.y;
    const top = chartArea.top;
    const bottom = chartArea.bottom;
    ctx.save();
    ctx.strokeStyle = BLACK;
    ctx.lineCap = 'butt';
    for (let i = 0; i < PANELS.length; i++) {
      const s = chart.scales['x' + i];
      ctx.lineWidth = 1.2;
      ctx.beginPath();
      for (const v of X_TICKS) {
        const px = Math.round(s.getPixelForValue(v)) + 0.5;
        ctx.moveTo(px, bottom);
        ctx.lineTo(px, bottom - 10);
        ctx.moveTo(px, top);
        ctx.lineTo(px, top + 10);
      }
      for (const v of Y_TICKS) {
        if (v === 40 || v === 100) continue;
        const py = Math.round(ys.getPixelForValue(v)) + 0.5;
        ctx.moveTo(s.left, py);
        ctx.lineTo(s.left + 6, py);
        ctx.moveTo(s.right, py);
        ctx.lineTo(s.right - 6, py);
      }
      ctx.stroke();
      ctx.lineWidth = 2;
      ctx.beginPath();
      ctx.moveTo(s.left, top);
      ctx.lineTo(s.left, bottom);
      ctx.moveTo(s.right, top);
      ctx.lineTo(s.right, bottom);
      ctx.stroke();
    }
    ctx.lineWidth = 2;
    ctx.beginPath();
    ctx.moveTo(chartArea.left, top);
    ctx.lineTo(chartArea.right, top);
    ctx.moveTo(chartArea.left, bottom);
    ctx.lineTo(chartArea.right, bottom);
    ctx.stroke();
    ctx.restore();
  },
};

export default function App() {
  const ref = useRef<HTMLCanvasElement | null>(null);

  useEffect(() => {
    if (!ref.current) return;
    const datasets: any[] = [];
    const xScales: any = {};
    const tScales: any = {};

    PANELS.forEach((p, i) => {
      const xid = 'x' + i;
      const common = { xAxisID: xid, yAxisID: 'y', pointRadius: 0, fill: false };
      datasets.push({ ...common, data: toPts(p.mean, p.mAlt), borderColor: BLACK, borderWidth: 3, tension: 0.4, order: 0 });
      datasets.push({ ...common, data: toPts(p.lo, p.mAlt), borderColor: BLACK, borderWidth: 3, borderDash: [3, 9], tension: 0.4, order: 1 });
      datasets.push({ ...common, data: toPts(p.hi, p.mAlt), borderColor: BLACK, borderWidth: 3, borderDash: [3, 9], tension: 0.4, order: 1 });
      datasets.push({ ...common, data: [{ x: 0, y: 40 }, { x: 0, y: 100 }], borderColor: BLUE, borderWidth: 2.5, order: 2 });
      p.reds.forEach((r) => {
        datasets.push({ ...common, data: toPts(r, ALT_2KM), borderColor: RED, borderWidth: 1.6, tension: 0.25, order: 3 });
      });

      xScales[xid] = {
        type: 'linear',
        position: 'bottom',
        stack: 'bottomStack',
        stackWeight: 1,
        min: X_MIN,
        max: X_MAX,
        afterBuildTicks: (s: any) => { s.ticks = X_TICKS.map((v) => ({ value: v })); },
        afterFit: (s: any) => { s.height = 49; },
        grid: { display: false, drawTicks: false },
        border: { display: false },
        ticks: { autoSkip: false, maxRotation: 0, padding: 10, color: BLACK, font: { family: FONT, size: 17 }, callback: (v: any) => String(v) },
        title: { display: true, text: X_TITLE, color: BLACK, font: { family: FONT, size: 17 }, padding: { top: 0, bottom: 0 } },
      };
      tScales['t' + i] = {
        type: 'linear',
        position: 'top',
        stack: 'topStack',
        stackWeight: 1,
        min: 0,
        max: 1,
        afterFit: (s: any) => { s.height = 46.5; },
        grid: { display: false, drawTicks: false },
        border: { display: false },
        ticks: { display: false },
        title: { display: true, text: p.title, color: BLACK, font: { family: FONT, size: 17, weight: 'bold' }, padding: { top: 9, bottom: 0 } },
      };
    });
    const spacer = (pos: string, stack: string, h: number) => ({
      type: 'linear', position: pos, stack, stackWeight: SPACER / PANEL_W, min: 0, max: 1,
      afterFit: (s: any) => { s.height = h; },
      grid: { display: false, drawTicks: false }, border: { display: false }, ticks: { display: false }, title: { display: false },
    });
    const yScale = {
      type: 'linear',
      position: 'left',
      min: 40,
      max: 100,
      afterBuildTicks: (s: any) => { s.ticks = Y_TICKS.map((v) => ({ value: v })); },
      afterFit: (s: any) => { s.width = 80; },
      grid: { display: false, drawTicks: false },
      border: { display: false },
      ticks: { padding: 6, color: BLACK, font: { family: FONT, size: 17 } },
      title: { display: true, text: Y_TITLE, color: BLACK, font: { family: FONT, size: 17 }, padding: { top: 12, bottom: 0 } },
    };

    // Bottom stack is laid out in definition order; the top stack in reverse order.
    const orderedScales: any = { y: yScale };
    for (let i = 0; i < PANELS.length; i++) orderedScales['x' + i] = xScales['x' + i];
    orderedScales.bSpacer = spacer('bottom', 'bottomStack', 49);
    for (let i = PANELS.length - 1; i >= 0; i--) orderedScales['t' + i] = tScales['t' + i];
    orderedScales.tSpacer = spacer('top', 'topStack', 46.5);

    const chart = new Chart(ref.current, {
      type: 'line',
      data: { datasets },
      options: {
        animation: false,
        responsive: false,
        maintainAspectRatio: false,
        layout: { padding: { left: 0, right: 920 - 80 - 5 * PANEL_W - SPACER, top: 0, bottom: 0 } },
        plugins: { legend: { display: false }, tooltip: { enabled: false }, title: { display: false } },
        events: [],
        scales: orderedScales,
      },
      plugins: [framePlugin],
    } as any);
    return () => chart.destroy();
  }, []);

  return (
    <div style={{ position: 'absolute', left: 0, top: 0, width: 900, height: 685, overflow: 'hidden', background: '#fff' }}>
      <canvas ref={ref} width={920} height={685} style={{ display: 'block', width: 920, height: 685 }} />
    </div>
  );
}
